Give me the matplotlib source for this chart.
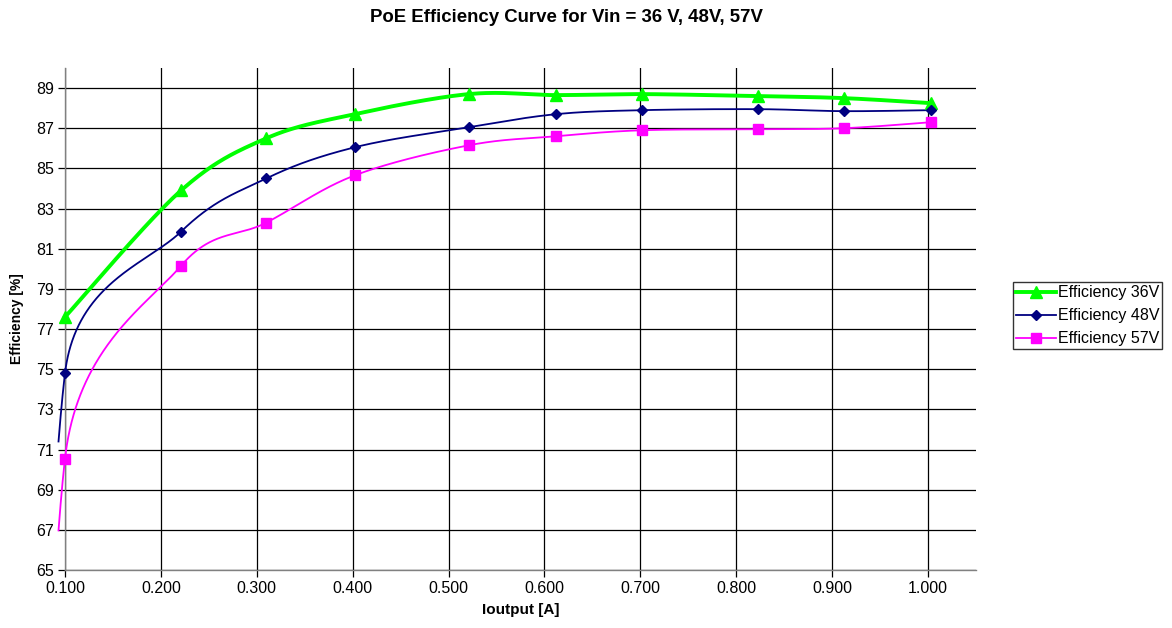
import matplotlib
matplotlib.use("Agg")
import matplotlib.pyplot as plt
import numpy as np

plt.rcParams['font.family'] = ['Liberation Sans', 'DejaVu Sans']

current = [0.100, 0.221, 0.310, 0.402, 0.521, 0.612, 0.702, 0.823, 0.912, 1.003]
eff_36 = [77.6, 83.9, 86.5, 87.7, 88.7, 88.65, 88.7, 88.6, 88.5, 88.25]
eff_48 = [74.8, 81.85, 84.5, 86.05, 87.05, 87.7, 87.9, 87.95, 87.85, 87.9]
eff_57 = [70.55, 80.15, 82.3, 84.65, 86.15, 86.6, 86.9, 86.95, 87.0, 87.3]

# points left of the visible range, only seen as the clipped curve stubs
lead_x = 0.05
lead_48 = 13.0
lead_57 = 7.0

xticks = [0.1, 0.2, 0.3, 0.4, 0.5, 0.6, 0.7, 0.8, 0.9, 1.0]
yticks = list(range(65, 90, 2))

fig = plt.figure(figsize=(11.72, 6.28), dpi=100)
ax = fig.add_axes([65 / 1172, 1 - 570 / 628, 911 / 1172, 502 / 628])
ax.set_xlim(0.1, 1.05)
ax.set_ylim(65, 90)


def clamp(v, lim):
    n = np.hypot(*v)
    return v * (lim / n) if n > lim else v


def smooth(xs, ys, n=40):
    # excel-like smoothed line: bezier segments, arms (p[i+1]-p[i-1])/6 limited to half the segment
    pts = ax.transData.transform(np.column_stack([xs, ys]))
    out = []
    last = len(pts) - 1
    for i in range(last):
        p0 = pts[max(i - 1, 0)]
        p1 = pts[i]
        p2 = pts[i + 1]
        p3 = pts[min(i + 2, last)]
        seg_len = np.hypot(*(p2 - p1))
        c1 = p1 + clamp((p2 - p0) / 6, seg_len / 2)
        c2 = p2 - clamp((p3 - p1) / 6, seg_len / 2)
        t = np.linspace(0, 1, n)[:, None]
        seg = (1 - t) ** 3 * p1 + 3 * (1 - t) ** 2 * t * c1 + 3 * (1 - t) * t ** 2 * c2 + t ** 3 * p2
        out.append(seg if i == 0 else seg[1:])
    out = np.vstack(out)
    # the plot area clips a few pixels left of the value axis
    left = ax.transAxes.transform((0, 0))[0] - 6.5
    out = out[out[:, 0] >= left]
    out = ax.transData.inverted().transform(out)
    return out[:, 0], out[:, 1]


series = [
    (current, eff_36, None, '#00FF00', 2.8, '^', 9, 'Efficiency 36V'),
    (current, eff_48, lead_48, '#000080', 1.3, 'D', 5.5, 'Efficiency 48V'),
    (current, eff_57, lead_57, '#FF00FF', 1.3, 's', 7, 'Efficiency 57V'),
]
handles = []
for xs, ys, lead, col, lw, mk, ms, lab in series:
    if lead is not None:
        sx, sy = smooth([lead_x] + xs, [lead] + ys, n=400)
    else:
        sx, sy = smooth(xs, ys)
    ax.plot(sx, sy, color=col, lw=lw, zorder=3, clip_on=False)
    ax.plot(xs, ys, ls='none', marker=mk, ms=ms, color=col, zorder=4, clip_on=False)
    h, = ax.plot([], [], color=col, lw=lw, marker=mk, ms=ms, label=lab)
    handles.append(h)

ax.set_xticks(xticks)
ax.set_xticklabels(['%.3f' % v for v in xticks])
ax.set_yticks(yticks)
ax.grid(True, color='black', lw=0.9)
ax.set_axisbelow(True)
for s in ['top', 'right']:
    ax.spines[s].set_visible(False)
for s in ['left', 'bottom']:
    ax.spines[s].set_color('#808080')
    ax.spines[s].set_linewidth(1.0)
ax.tick_params(direction='out', length=5, width=0.9, color='black', labelsize=11.5, pad=3)

ax.set_xlabel('Ioutput [A]', fontsize=11, fontweight='bold', labelpad=5)
ax.set_ylabel('Efficiency [%]', fontsize=10, fontweight='bold', labelpad=9)
fig.text(566 / 1172, 1 - 17 / 628, 'PoE Efficiency Curve for Vin = 36 V, 48V, 57V',
         ha='center', va='center', fontsize=13.4, fontweight='bold')

fig.legend(handles=handles, loc='upper left', bbox_to_anchor=(1013 / 1172, 1 - 282 / 628),
           frameon=True, fancybox=False, edgecolor='black', fontsize=11.5,
           handlelength=2.5, handletextpad=0.1, borderpad=0.2, labelspacing=0.5,
           borderaxespad=0)

fig.savefig('out.png', dpi=100)
